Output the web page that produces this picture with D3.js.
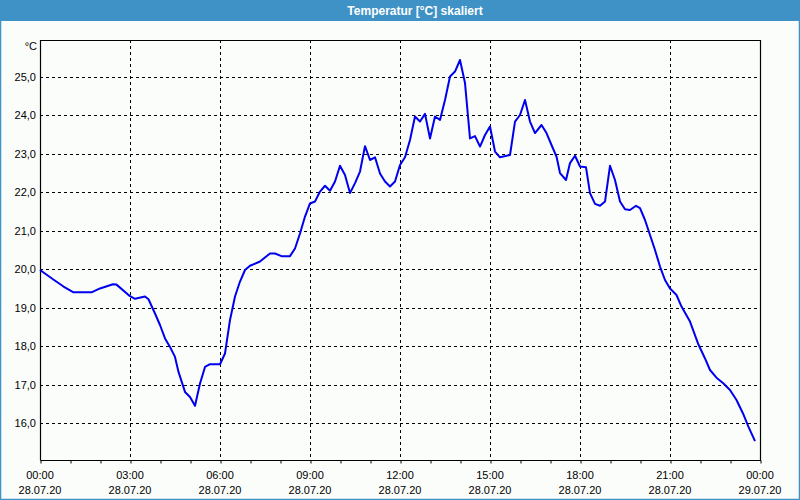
<!DOCTYPE html>
<html>
<head>
<meta charset="utf-8">
<script src="https://cdn.jsdelivr.net/npm/d3@7"></script>
<style>
html,body{margin:0;padding:0;background:#fbfdfb;}
svg{display:block;}
</style>
</head>
<body>
<script>
// ---- data ----
const title = "Temperatur [°C] skaliert";
const unitLabel = "°C";
const times = ["00:00","00:26","00:47","01:07","01:43","02:00","02:26","02:33","03:00","03:10","03:30","03:37","03:50",
"04:00","04:10","04:20","04:30","04:37","04:50","05:00","05:10","05:20","05:30","05:40","06:00","06:10","06:20","06:30",
"06:40","06:50","07:00","07:20","07:40","07:50","08:03","08:20","08:30","08:40","08:50","09:00","09:10","09:20","09:30",
"09:40","09:50","10:00","10:10","10:20","10:30","10:40","10:50","11:00","11:10","11:20","11:30","11:40","11:50","12:00",
"12:10","12:20","12:30","12:40","12:50","13:00","13:10","13:20","13:30","13:40","13:50","14:00","14:10","14:20","14:30",
"14:40","14:50","15:00","15:10","15:20","15:40","15:50","16:00","16:10","16:20","16:30","16:43","16:53","17:03","17:13",
"17:20","17:32","17:40","17:50","18:00","18:12","18:20","18:30","18:40","18:50","19:00","19:10","19:20","19:30","19:40",
"19:52","20:00","20:10","20:20","20:30","20:40","20:50","21:00","21:13","21:23","21:40","21:56","22:10","22:20","22:33",
"22:47","23:00","23:13","23:26","23:37","23:50"];
const temps = [19.98,19.74,19.55,19.40,19.40,19.50,19.61,19.60,19.30,19.23,19.29,19.22,18.85,
18.55,18.20,17.98,17.72,17.33,16.81,16.68,16.45,17.03,17.46,17.53,17.53,17.81,18.68,19.29,
19.68,19.98,20.09,20.20,20.41,20.41,20.34,20.34,20.54,20.93,21.37,21.71,21.76,22.02,22.17,
22.04,22.28,22.69,22.45,21.98,22.24,22.54,23.20,22.84,22.91,22.49,22.28,22.15,22.28,22.71,
22.91,23.36,23.97,23.84,24.04,23.40,23.97,23.88,24.40,25.01,25.14,25.44,24.84,23.40,23.46,
23.19,23.49,23.71,23.06,22.91,22.97,23.84,24.01,24.40,23.84,23.54,23.75,23.54,23.23,22.93,
22.50,22.32,22.76,22.95,22.67,22.65,21.98,21.70,21.65,21.76,22.69,22.32,21.76,21.56,21.54,
21.65,21.59,21.28,20.89,20.50,20.07,19.72,19.50,19.33,19.03,18.64,18.07,17.68,17.38,17.18,
17.03,16.86,16.60,16.25,15.90,15.53];
const yTicks = [16,17,18,19,20,21,22,23,24,25];
const xTickHours = [0,3,6,9,12,15,18,21,24];
const xTickTimes = ["00:00","03:00","06:00","09:00","12:00","15:00","18:00","21:00","00:00"];
const xTickDates = ["28.07.20","28.07.20","28.07.20","28.07.20","28.07.20","28.07.20","28.07.20","28.07.20","29.07.20"];
const yDomain = [15.04, 25.96];

// ---- layout ----
const W = 800, H = 500;
const L = 40, R = 760, T = 40, B = 460;
const font = "'Liberation Sans', Arial, sans-serif";

const svg = d3.select("body").append("svg").attr("width", W).attr("height", H);
svg.append("rect").attr("width", W).attr("height", H).attr("fill", "#fbfdfb");

// title bar
svg.append("rect").attr("x",0).attr("y",0).attr("width",W).attr("height",21).attr("fill","#3e92c6");
svg.append("text").attr("x",415).attr("y",15).attr("text-anchor","middle")
  .attr("fill","#ffffff").attr("font-family",font).attr("font-weight","bold").attr("font-size","12px")
  .text(title);

// window frame
svg.append("rect").attr("x",0.5).attr("y",0.5).attr("width",W-1).attr("height",H-1)
  .attr("fill","none").attr("stroke","#3e92c6").attr("stroke-width",1.5);

const parseMin = s => { const [h,m] = s.split(":").map(Number); return h*60+m; };
const x = d3.scaleLinear().domain([0, 24*60]).range([L, R]);
const y = d3.scaleLinear().domain(yDomain).range([B, T]);

// grid
const g = svg.append("g");
g.selectAll(".hg").data(yTicks).enter().append("line")
  .attr("x1",L).attr("x2",R).attr("y1",d=>Math.round(y(d))+0.5).attr("y2",d=>Math.round(y(d))+0.5)
  .attr("stroke","#000").attr("stroke-width",1).attr("stroke-dasharray","3,3");
g.selectAll(".vg").data(xTickHours.slice(1,-1)).enter().append("line")
  .attr("x1",d=>Math.round(x(d*60))+0.5).attr("x2",d=>Math.round(x(d*60))+0.5).attr("y1",T).attr("y2",B)
  .attr("stroke","#000").attr("stroke-width",1).attr("stroke-dasharray","3,3");

// frame of plot
svg.append("path").attr("d",`M${L+0.5},${B+0.5}V${T+0.5}H${R+0.5}V${B+0.5}H${L+0.5}`)
  .attr("fill","none").attr("stroke","#000").attr("stroke-width",1.2);

// x axis minor ticks (every hour)
const xAxis = d3.axisBottom(x).tickValues(d3.range(0,25).map(h=>h*60)).tickSize(3).tickFormat("");
const xa = svg.append("g").attr("transform",`translate(0.5,${B+0.5})`).call(xAxis);
xa.select(".domain").remove();
xa.selectAll("line").attr("stroke","#000");

// x labels
const xl = svg.append("g").attr("font-family",font).attr("font-size","11px").attr("fill","#000").attr("text-anchor","middle");
xl.selectAll(".t1").data(xTickHours).enter().append("text")
  .attr("x",d=>x(d*60)).attr("y",479).text((d,i)=>xTickTimes[i]);
xl.selectAll(".t2").data(xTickHours).enter().append("text")
  .attr("x",d=>x(d*60)).attr("y",494).text((d,i)=>xTickDates[i]);

// y labels
const yAxis = d3.axisLeft(y).tickValues(yTicks).tickSize(0).tickPadding(4)
  .tickFormat(d => d3.format(".1f")(d).replace(".", ","));
const ya = svg.append("g").attr("transform",`translate(${L},0)`).call(yAxis);
ya.select(".domain").remove();
ya.selectAll("text").attr("font-family",font).attr("font-size","11px").attr("fill","#000");

svg.append("text").attr("x",37).attr("y",50).attr("text-anchor","end")
  .attr("font-family",font).attr("font-size","11px").attr("fill","#000").text(unitLabel);

// line
const data = times.map((t,i)=>({m:parseMin(t), v:temps[i]}));
svg.append("path").datum(data)
  .attr("fill","none").attr("stroke","#0000ee").attr("stroke-width",2).attr("stroke-linejoin","round")
  .attr("d", d3.line().x(d=>x(d.m)).y(d=>y(d.v)));
</script>
</body>
</html>
